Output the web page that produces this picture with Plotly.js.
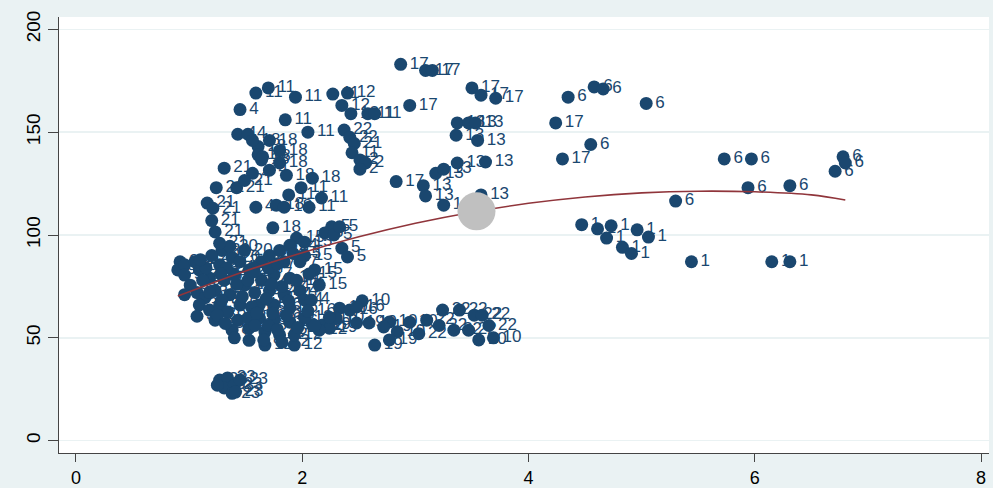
<!DOCTYPE html>
<html>
<head>
<meta charset="utf-8">
<script src="https://cdn.plot.ly/plotly-3.0.1.min.js"></script>
<style>
  html, body { margin: 0; padding: 0; background: #eaf2f3; }
  #chart { width: 993px; height: 488px; }
</style>
</head>
<body>
<div id="chart"></div>
<script>
// Observations: x value, y value and the group id used as marker label
const xVals = [
  // group 1
  4.47, 4.61, 4.73, 4.69, 4.96, 5.06, 4.83, 4.91, 5.44, 6.15, 6.31,
  // group 6
  4.58, 4.66, 4.35, 5.04, 4.55, 5.73, 5.97, 6.78, 6.80, 6.71, 5.94, 6.31, 5.30,
  // group 17
  4.24, 4.30, 2.87, 3.09, 3.15, 3.50, 3.58, 3.71, 2.95, 2.83,
  // group 13
  3.07, 3.09, 3.25, 3.37, 3.47, 3.53, 3.36, 3.55, 3.18, 3.25, 3.37, 3.62, 3.58,
  // group 11
  1.59, 1.70, 1.94, 2.27, 1.85, 2.05, 1.99, 1.88, 2.17, 2.58, 2.64,
  // groups 12 / 22 / 21 / 2 (upper middle)
  2.40, 2.35, 2.43, 2.37, 2.42, 2.46, 2.44, 2.51, 2.56, 2.51,
  // group 4
  1.45, 1.43, 1.52, 1.56, 1.59, 1.71,
  // group 18
  1.61, 1.61, 1.65, 1.56, 1.71, 1.80, 1.64, 1.80, 1.86, 2.09, 1.77, 1.84, 1.74,
  // group 21
  1.31, 1.24, 1.42, 1.49, 1.16, 1.21, 1.20, 1.23,
  // group 5
  2.26, 2.20, 2.28, 2.33, 2.35, 2.40,
  // group 15
  1.95, 2.02, 2.02, 2.11, 2.15,
  // group 23
  1.27, 1.34, 1.31, 1.40, 1.38, 1.25, 1.45, 1.41,
  // group 10
  2.53, 2.33, 2.30, 2.77, 2.84, 2.95, 3.56, 3.69,
  // group 19
  2.64, 2.77, 2.48, 2.59, 2.72, 2.18, 2.09, 2.24,
  // group 22 (lower)
  3.10, 3.24, 3.39, 3.52, 3.59, 3.21, 3.34, 3.47, 3.65, 3.03,
  // group 16 / 12 (lower)
  2.24, 2.42, 2.48, 1.93, 2.15,
  // left cluster
  0.92, 0.90, 0.96, 1.05, 0.96, 1.09, 1.01, 1.07, 0.96, 1.14, 1.09, 1.18, 1.07,
  1.23, 1.27, 1.23, 1.31, 1.18, 1.27, 1.38, 1.29, 1.36, 1.49, 1.45, 1.53, 1.40,
  1.49, 1.36, 1.45, 1.34, 1.43, 1.38, 1.40, 1.29, 1.27,
  1.12, 1.20, 1.15, 1.33, 1.42, 1.52, 1.25, 1.47, 1.32, 1.18, 1.28, 1.10,
  // centre cluster
  1.64, 1.71, 1.80, 1.89, 1.84, 1.98, 1.75, 1.89, 1.64, 1.58, 1.71, 1.84, 1.98,
  1.62, 1.75, 1.89, 2.02, 1.62, 1.75, 1.89, 2.02, 1.53, 1.67, 1.80, 1.93, 1.53,
  1.67, 1.82, 1.52, 2.11, 2.08, 2.06,
  1.57, 1.70, 1.78, 1.92, 1.95, 1.68, 1.55, 1.82, 1.60, 1.74, 1.86, 2.05, 1.58,
  1.70, 1.96, 1.66, 1.78, 2.06, 1.88, 1.57, 1.73
];
const yVals = [
  105, 103, 104.5, 98.5, 102.5, 99, 94, 91, 87, 87, 87,
  172, 171, 167, 164, 144, 137, 137, 138, 135, 131, 123, 124, 116.5,
  154.5, 137, 183, 180, 180, 171.5, 168, 166.5, 163, 126,
  124, 119, 114.5, 154.5, 154.5, 154.5, 148.5, 146, 130, 132, 135, 135.5, 119.5,
  169, 171.5, 167, 168.5, 156, 150, 123, 119.5, 118, 159, 159,
  169, 163, 159, 151, 147.5, 144.5, 140, 136.5, 135, 132,
  161, 149, 149, 130, 113.5, 131.5,
  143, 139, 138, 146, 146, 141, 136.5, 135, 129, 127.6, 114.5, 113.5, 103.5,
  132.5, 123, 123, 126.5, 115.5, 113, 107, 101.5,
  104, 101, 100, 104, 93.6, 89.3,
  98.5, 96.5, 90, 83, 75.6,
  29.5, 30.5, 25.6, 27, 23, 27, 29.5, 23.6,
  68, 64.4, 59.6, 57.7, 53, 57.6, 49, 50,
  46.5, 49, 57.2, 57.2, 55.3, 56.2, 56.2, 54.7,
  58.6, 63.5, 63.5, 61, 61, 56, 53.7, 53.7, 56, 52,
  60, 63.5, 65, 46.5, 53.7,
  87, 83, 85.5, 87, 80.5, 83, 75.6, 72, 71, 69.5, 66, 63.5, 60.5,
  58.6, 66, 73, 78, 79, 85.5, 89, 92.5, 94.5, 92.5, 87, 83, 80.5,
  75.6, 71, 66, 62.5, 58.5, 53.7, 50, 68.4, 96,
  78, 90, 84, 84, 76, 78, 61, 70, 57, 72, 81, 88,
  87, 90, 92.5, 95, 87, 87, 80.5, 79, 78, 72, 73, 71, 73,
  66, 66, 64.5, 68.4, 59.6, 58.6, 57.6, 59.6, 54.7, 52.8, 51.4, 51.4, 48.8,
  46.5, 47.9, 59.6, 56, 68.4, 113.5,
  84, 84, 86, 91, 78, 69, 65, 75, 62, 62, 61, 63, 56,
  56, 55, 49, 54, 81, 68, 82, 76
];
const idLabels = [
  "1","1","1","1","1","1","1","1","1","1","1",
  "6","6","6","6","6","6","6","6","6","6","6","6","6",
  "17","17","17","17","17","17","17","17","17","17",
  "13","13","13","13","13","13","13","13","13","13","13","13","13",
  "11","11","11","11","11","11","11","11","11","11","11",
  "12","12","12","22","22","21","11","2","2","2",
  "4","4","4","4","4","4",
  "18","18","18","18","18","18","18","18","18","18","18","18","18",
  "21","21","21","21","21","21","21","21",
  "5","5","5","5","5","5",
  "15","15","15","15","15",
  "23","23","23","23","23","23","23","23",
  "10","10","10","10","10","10","10","10",
  "19","19","19","19","19","19","19","19",
  "22","22","22","22","22","22","22","22","22","22",
  "16","16","16","12","12",
  "9","9","9","9","9","9","3","3","3","3","3","3","3",
  "3","3","24","24","24","24","20","20","20","20","24","24","24",
  "14","14","8","8","8","8","8","8","21",
  "9","20","24","24","14","14","3","14","3","3","24","9",
  "2","2","24","24","7","7","7","14","14","14","14","14","4",
  "16","16","16","4","16","16","16","12","8","8","12","12","8",
  "12","12","8","12","4","11",
  "7","7","7","15","15","14","8","14","16","16","16","16","8",
  "8","12","8","12","15","4","24","14"
];

// Quadratic fit curve, read along its length
const fitX = [0.9, 1.5, 2.0, 2.5, 3.0, 3.5, 4.0, 4.5, 5.0, 5.5, 6.0, 6.5, 6.8];
const fitY = [70.3, 82.5, 91.4, 99.1, 105.7, 111.1, 115.4, 118.5, 120.5, 121.3, 121.0, 119.5, 117.0];

// Highlighted mean point
const meanX = [3.54];
const meanY = [111.5];

const xTicks = [0, 2, 4, 6, 8];
const yTicks = [0, 50, 100, 150, 200];

const navy = '#1a476f';

const traces = [
  {
    type: 'scatter',
    mode: 'markers+text',
    x: xVals,
    y: yVals,
    text: idLabels,
    textposition: 'middle right',
    textfont: { family: 'Liberation Sans, Arial, sans-serif', size: 17, color: navy },
    marker: { color: navy, size: 13, line: { width: 0 } },
    cliponaxis: false,
    hoverinfo: 'x+y+text'
  },
  {
    type: 'scatter',
    mode: 'lines',
    x: fitX,
    y: fitY,
    line: { color: '#90353b', width: 1.6, shape: 'spline' },
    hoverinfo: 'skip'
  },
  {
    type: 'scatter',
    mode: 'markers',
    x: meanX,
    y: meanY,
    marker: { color: '#c0c0c0', size: 38, line: { width: 0 } },
    hoverinfo: 'x+y'
  }
];

const layout = {
  width: 993,
  height: 488,
  showlegend: false,
  paper_bgcolor: '#eaf2f3',
  plot_bgcolor: '#ffffff',
  margin: { l: 59, r: 4, t: 17, b: 35 },
  font: { family: 'Liberation Sans, Arial, sans-serif', color: '#000000' },
  xaxis: {
    range: [-0.15, 8.07],
    tickvals: xTicks,
    ticktext: xTicks.map(String),
    ticks: 'outside',
    ticklen: 8,
    tickcolor: '#444444',
    tickfont: { size: 18, color: '#000000' },
    showline: true,
    linecolor: '#444444',
    linewidth: 1,
    showgrid: false,
    zeroline: false,
    title: { text: '' }
  },
  yaxis: {
    range: [-6, 206],
    tickvals: yTicks,
    ticktext: yTicks.map(String),
    tickangle: -90,
    ticks: 'outside',
    ticklen: 10,
    tickcolor: '#444444',
    tickfont: { size: 19, color: '#000000' },
    showline: true,
    linecolor: '#444444',
    linewidth: 1,
    showgrid: true,
    gridcolor: '#eaf2f3',
    gridwidth: 1.5,
    zeroline: false,
    title: { text: '' }
  }
};

Plotly.newPlot('chart', traces, layout, { displayModeBar: false, staticPlot: true });
</script>
</body>
</html>
